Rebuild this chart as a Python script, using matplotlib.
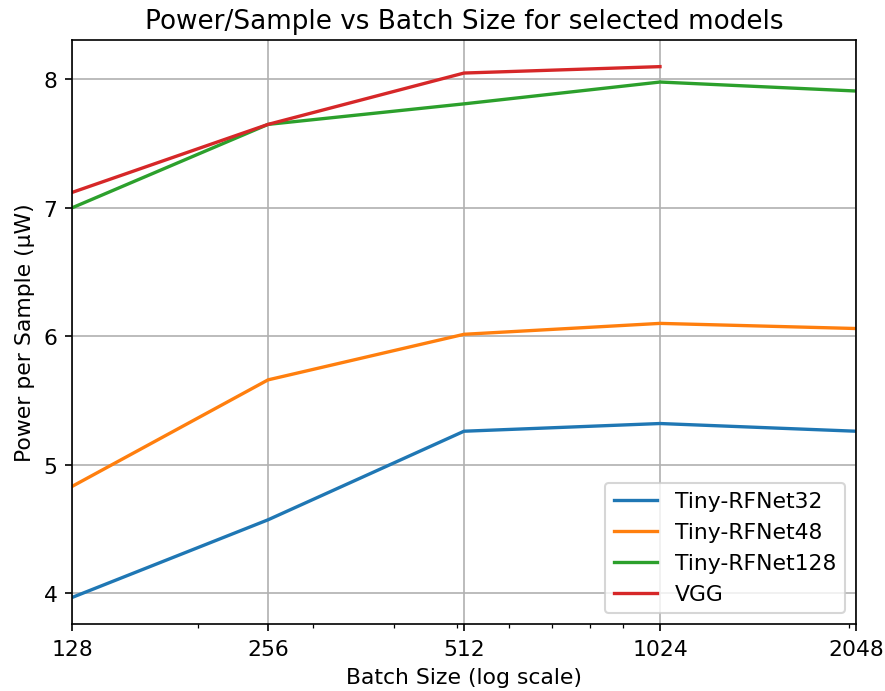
import matplotlib
matplotlib.use("Agg")
import matplotlib.pyplot as plt
from matplotlib.ticker import FixedLocator, FixedFormatter, NullFormatter

batch_sizes = [128, 256, 512, 1024, 2048]

rfnet32 = [3.965, 4.57, 5.26, 5.32, 5.26]
rfnet48 = [4.83, 5.66, 6.015, 6.10, 6.06]
rfnet128 = [7.0, 7.65, 7.81, 7.98, 7.91]
vgg_sizes = [128, 256, 512, 1024]
vgg = [7.12, 7.65, 8.05, 8.10]

plt.rcParams["font.size"] = 10.5
plt.rcParams["axes.titlesize"] = 12.6
plt.rcParams["lines.linewidth"] = 1.6

fig = plt.figure(figsize=(5.9, 4.613), dpi=150)
ax = fig.add_axes([0.0814, 0.0968, 0.8858, 0.8439])

ax.plot(batch_sizes, rfnet32, label="Tiny-RFNet32")
ax.plot(batch_sizes, rfnet48, label="Tiny-RFNet48")
ax.plot(batch_sizes, rfnet128, label="Tiny-RFNet128")
ax.plot(vgg_sizes, vgg, label="VGG")

ax.set_xscale("log")
ax.set_xlim(128, 2048)
ax.xaxis.set_major_locator(FixedLocator(batch_sizes))
ax.xaxis.set_major_formatter(FixedFormatter([str(b) for b in batch_sizes]))
ax.xaxis.set_minor_formatter(NullFormatter())

ax.set_title("Power/Sample vs Batch Size for selected models")
ax.set_xlabel("Batch Size (log scale)")
ax.set_ylabel("Power per Sample (µW)")
ax.grid(True)
ax.legend(loc="lower right")

fig.savefig("out.png", dpi=150)
plt.close()
